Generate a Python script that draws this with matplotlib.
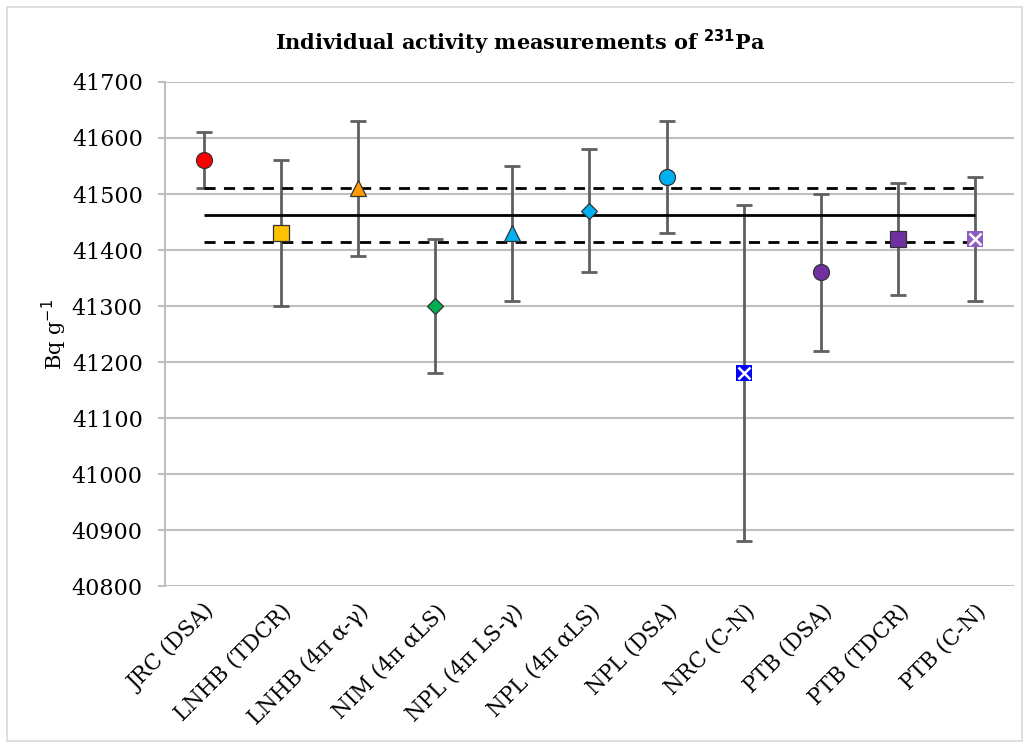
import numpy as np
import matplotlib.pyplot as plt
from matplotlib.patches import Rectangle

plt.rcParams['font.family'] = ['DejaVu Serif']

labs = ['JRC (DSA)', 'LNHB (TDCR)', 'LNHB (4π α-γ)', 'NIM (4π αLS)', 'NPL (4π LS-γ)',
        'NPL (4π αLS)', 'NPL (DSA)', 'NRC (C-N)', 'PTB (DSA)', 'PTB (TDCR)', 'PTB (C-N)']
vals = [41560, 41430, 41510, 41300, 41430, 41470, 41530, 41180, 41360, 41420, 41420]
errs = [50, 130, 120, 120, 120, 110, 100, 300, 140, 100, 110]
ref_mean = 41462
ref_unc = 48

markers = ['o', 's', '^', 'D', '^', 'D', 'o', 's', 'o', 's', 's']
colors = ['#FF0000', '#FFC000', '#FF9A00', '#00B050', '#00B0F0', '#00B0F0',
          '#00B0F0', '#0000FF', '#7030A0', '#7030A0', '#8E5CC4']
sizes = [11.5, 11.5, 12, 8.5, 12, 8.5, 11.5, 11, 11.5, 11.5, 11]
crossed = [False] * 7 + [True, False, False, True]

fig = plt.figure(figsize=(10.25, 7.45), dpi=100)
ax = fig.add_axes([0.161, 0.213, 0.828, 0.677])
fig.patches.append(Rectangle((0.007, 0.005), 0.99, 0.985, transform=fig.transFigure,
                             fill=False, edgecolor='#D9D9D9', linewidth=1.2))

x = np.arange(len(labs))
ax.errorbar(x, vals, yerr=errs, fmt='none', ecolor='#5F5F5F', elinewidth=2,
            capsize=6, capthick=2, zorder=2)

# reference value and its uncertainty band
ax.hlines(ref_mean, x[0], x[-1], colors='black', linewidth=2, zorder=3)
ax.hlines([ref_mean + ref_unc, ref_mean - ref_unc], x[0], x[-1], colors='black',
          linewidth=2, linestyles=(0, (4, 3)), zorder=3)

for i in range(len(labs)):
    if crossed[i]:
        ax.plot(x[i], vals[i], marker='s', ms=sizes[i], color=colors[i],
                mec=colors[i], mew=0, zorder=4)
        ax.plot(x[i], vals[i], marker='x', ms=sizes[i] * 0.85, color='white',
                mew=1.8, zorder=5)
    else:
        ax.plot(x[i], vals[i], marker=markers[i], ms=sizes[i], color=colors[i],
                mec='#333333', mew=0.9, zorder=4)

ax.set_xlim(-0.5, len(labs) - 0.5)
ax.set_ylim(40800, 41700)
ax.set_yticks(np.arange(40800, 41701, 100))
ax.yaxis.grid(True, color='#BFBFBF', linewidth=1.5)
ax.set_axisbelow(True)
for s in ['top', 'right', 'bottom']:
    ax.spines[s].set_visible(False)
ax.spines['left'].set_color('#BFBFBF')
ax.spines['left'].set_linewidth(1.5)
ax.tick_params(axis='y', length=5, color='#BFBFBF', width=1.5, labelsize=16, pad=11)
ax.tick_params(axis='x', length=0, pad=10)
ax.set_xticks(x)
ax.set_xticklabels(labs, rotation=45, ha='right', va='top', rotation_mode='anchor', fontsize=15.5)
ax.set_ylabel('Bq g$^{-1}$', fontsize=15, labelpad=2)

fig.text(0.508, 0.943, 'Individual activity measurements of $^{\\mathbf{231}}$Pa',
         ha='center', va='center', fontsize=15, fontweight='bold')

plt.savefig('out.png', dpi=100)
